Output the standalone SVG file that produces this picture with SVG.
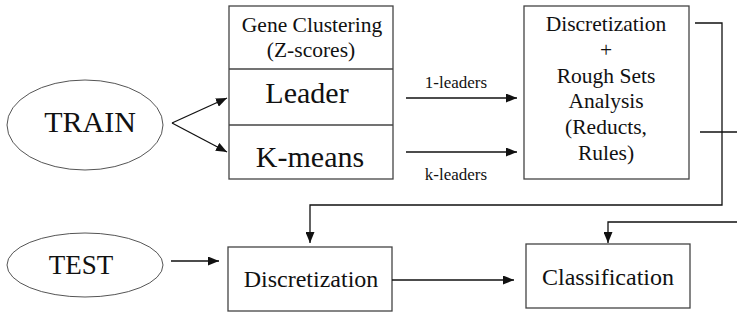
<svg xmlns="http://www.w3.org/2000/svg" width="737" height="326" viewBox="0 0 737 326">
  <style>
    .box { fill: #fff; stroke: #444; stroke-width: 1.3; }
    .oval { fill: #fff; stroke: #555; stroke-width: 1; }
    .wire { fill: none; stroke: #111; stroke-width: 1.3; }
    .lbl { fill: #111; text-anchor: middle; }
    .big { font-size: 30px; }
    .mid { font-size: 24px; }
    .small { font-size: 21.5px; }
    .tag { font-size: 17px; }
  </style>
  <defs>
    <marker id="arrow" markerUnits="userSpaceOnUse" markerWidth="11" markerHeight="9" refX="11" refY="4.5" orient="auto">
      <path d="M0,0 L11,4.5 L0,9 z" fill="#111"/>
    </marker>
  </defs>

  <g font-family="Liberation Serif, DejaVu Serif, serif">
  <g id="train">
    <ellipse class="oval" cx="85" cy="125" rx="78" ry="45"/>
    <text class="lbl big" x="90" y="132">TRAIN</text>
  </g>

  <g id="clustering">
    <rect class="box" x="229" y="6" width="164" height="173"/>
    <line class="box" x1="229" y1="69" x2="393" y2="69"/>
    <line class="box" x1="229" y1="125" x2="393" y2="125"/>
    <text class="lbl small" x="312" y="32">Gene Clustering</text>
    <text class="lbl small" x="311" y="57">(Z-scores)</text>
    <text class="lbl big" x="307" y="103">Leader</text>
    <text class="lbl big" x="310" y="167">K-means</text>
  </g>

  <g id="rough-sets">
    <rect class="box" x="524" y="6" width="165" height="173"/>
    <text class="lbl small" x="606" y="31">Discretization</text>
    <text class="lbl small" x="606" y="57">+</text>
    <text class="lbl small" x="606" y="83">Rough Sets</text>
    <text class="lbl small" x="606" y="108">Analysis</text>
    <text class="lbl small" x="606" y="134">(Reducts,</text>
    <text class="lbl small" x="606" y="160">Rules)</text>
  </g>

  <g id="test">
    <ellipse class="oval" cx="85" cy="265" rx="78" ry="32"/>
    <text class="lbl" font-size="27" x="81" y="274">TEST</text>
  </g>

  <g id="discretization">
    <rect class="box" x="228" y="247" width="164" height="64"/>
    <text class="lbl mid" x="311" y="287">Discretization</text>
  </g>

  <g id="classification">
    <rect class="box" x="526" y="244" width="164" height="64"/>
    <text class="lbl mid" x="608" y="285">Classification</text>
  </g>

  <g id="connectors">
    <path class="wire" d="M172,123 L227,98" marker-end="url(#arrow)"/>
    <path class="wire" d="M172,123 L227,152" marker-end="url(#arrow)"/>
    <path class="wire" d="M406,98 H517" marker-end="url(#arrow)"/>
    <path class="wire" d="M406,152 H517" marker-end="url(#arrow)"/>
    <text class="lbl tag" x="456" y="88">1-leaders</text>
    <text class="lbl tag" x="456" y="180">k-leaders</text>
    <path class="wire" d="M695,23 H722 V205 H310 V243" marker-end="url(#arrow)"/>
    <path class="wire" d="M700,132 H737"/>
    <path class="wire" d="M737,222 H608 V243" marker-end="url(#arrow)"/>
    <path class="wire" d="M171,261 H219" marker-end="url(#arrow)"/>
    <path class="wire" d="M392,280 H514" marker-end="url(#arrow)"/>
  </g>
  </g>
</svg>
